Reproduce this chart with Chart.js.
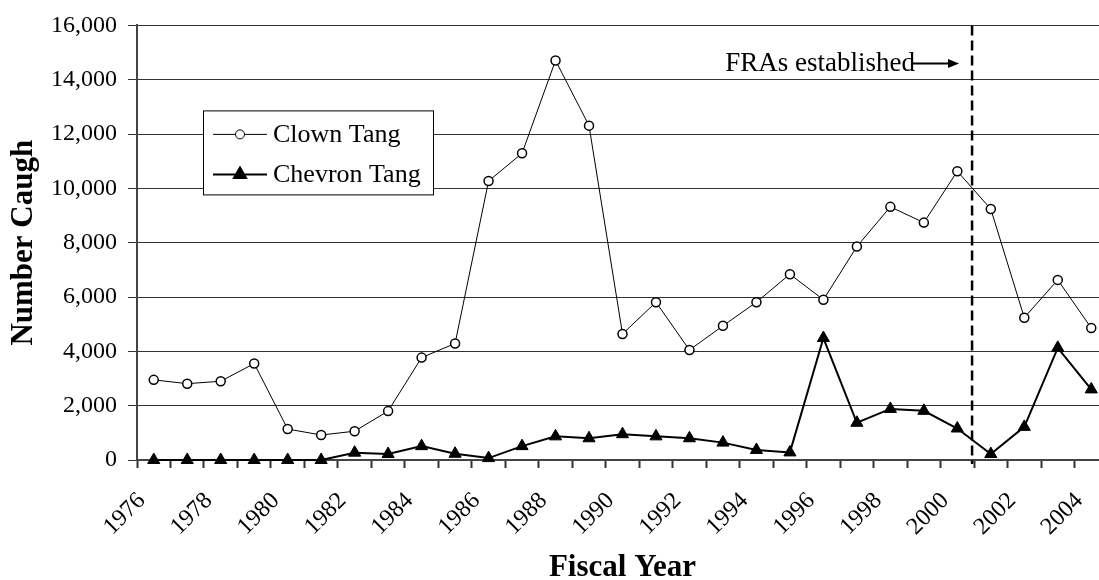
<!DOCTYPE html>
<html>
<head>
<meta charset="utf-8">
<script src="https://cdn.jsdelivr.net/npm/chart.js@4/dist/chart.umd.min.js"></script>
<style>
  html, body { margin: 0; padding: 0; overflow: hidden; background: #fff; }
  canvas { display: block; }
</style>
</head>
<body>
<canvas id="tangChart" width="1116" height="580"></canvas>
<script>
    const years = ['1976', '1977', '1978', '1979', '1980', '1981', '1982', '1983', '1984', '1985',
        '1986', '1987', '1988', '1989', '1990', '1991', '1992', '1993', '1994', '1995',
        '1996', '1997', '1998', '1999', '2000', '2001', '2002', '2003', '2004'];
    const clownTang = [2950, 2810, 2900, 3550, 1140, 920, 1060, 1800, 3770, 4290,
        10270, 11290, 14710, 12310, 4640, 5810, 4050, 4940, 5810, 6840,
        5900, 7860, 9320, 8740, 10630, 9240, 5240, 6630, 4860];
    const chevronTang = [0, 0, 0, 0, 0, 0, 270, 220, 510, 230,
        70, 510, 870, 800, 950, 870, 800, 640, 370, 280,
        4490, 1370, 1880, 1810, 1160, 220, 1220, 4130, 2600];
    const yTicks = [0, 2000, 4000, 6000, 8000, 10000, 12000, 14000, 16000];
    const fraYearIndex = 24; // dashed line drawn after FY2000

    const serif = "'Liberation Serif', 'Times New Roman', serif";

    // dashed FRA line, note with arrow, and the boxed legend
    const extrasPlugin = {
        id: 'extras',
        afterDatasetsDraw(chart) {
            const ctx = chart.ctx;
            const x = chart.scales.x;
            const y = chart.scales.y;
            const area = chart.chartArea;
            const dashX = (x.getPixelForValue(fraYearIndex) + x.getPixelForValue(fraYearIndex + 1)) / 2 - 2;

            ctx.save();
            ctx.strokeStyle = '#000';
            ctx.lineWidth = 2.5;
            ctx.setLineDash([10, 5]);
            ctx.beginPath();
            ctx.moveTo(dashX, area.top);
            ctx.lineTo(dashX, area.bottom + 4);
            ctx.stroke();
            ctx.setLineDash([]);

            const noteY = y.getPixelForValue(14600);
            ctx.font = '27px ' + serif;
            ctx.fillStyle = '#000';
            ctx.textAlign = 'right';
            ctx.textBaseline = 'middle';
            ctx.fillText('FRAs established', dashX - 57, noteY);
            ctx.lineWidth = 2;
            ctx.beginPath();
            ctx.moveTo(dashX - 60, noteY);
            ctx.lineTo(dashX - 22, noteY);
            ctx.stroke();
            ctx.beginPath();
            ctx.moveTo(dashX - 13, noteY);
            ctx.lineTo(dashX - 24, noteY - 4.5);
            ctx.lineTo(dashX - 24, noteY + 4.5);
            ctx.closePath();
            ctx.fill();

            // legend box
            const lx = area.left + 66, ly = area.top + 85, lw = 230, lh = 84;
            ctx.fillStyle = '#fff';
            ctx.fillRect(lx, ly, lw, lh);
            ctx.strokeStyle = '#000';
            ctx.lineWidth = 1;
            ctx.strokeRect(lx + 0.5, ly + 0.5, lw, lh);

            const rows = [
                { ds: chart.data.datasets[0], yy: ly + 24 },
                { ds: chart.data.datasets[1], yy: ly + 64 }
            ];
            rows.forEach(r => {
                ctx.strokeStyle = '#000';
                ctx.lineWidth = r.ds.borderWidth;
                ctx.beginPath();
                ctx.moveTo(lx + 10, r.yy);
                ctx.lineTo(lx + 64, r.yy);
                ctx.stroke();
                ctx.fillStyle = r.ds.pointBackgroundColor;
                ctx.strokeStyle = r.ds.pointBorderColor;
                Chart.helpers.drawPoint(ctx, {
                    pointStyle: r.ds.pointStyle,
                    radius: r.ds.pointRadius,
                    rotation: 0,
                    borderWidth: r.ds.pointBorderWidth
                }, lx + 37, r.yy);
                ctx.fillStyle = '#000';
                ctx.font = '26px ' + serif;
                ctx.textAlign = 'left';
                ctx.textBaseline = 'middle';
                ctx.fillText(r.ds.label, lx + 70, r.yy + 1);
            });
            ctx.restore();
        }
    };

    const ctxTang = document.getElementById('tangChart').getContext('2d');
    const tangChart = new Chart(ctxTang, {
        type: 'line',
        data: {
            labels: years,
            datasets: [{
                label: 'Clown Tang',
                data: clownTang,
                borderColor: '#000',
                borderWidth: 1,
                pointStyle: 'circle',
                pointRadius: 4.5,
                pointBorderWidth: 1.5,
                pointBackgroundColor: '#fff',
                pointBorderColor: '#000',
                fill: false,
                clip: false,
                tension: 0
            }, {
                label: 'Chevron Tang',
                data: chevronTang,
                borderColor: '#000',
                borderWidth: 2,
                pointStyle: 'triangle',
                pointRadius: 7,
                pointBorderWidth: 1,
                pointBackgroundColor: '#000',
                pointBorderColor: '#000',
                fill: false,
                clip: false,
                tension: 0
            }]
        },
        options: {
            responsive: false,
            animation: false,
            layout: { padding: { top: 23, right: 1, bottom: 0, left: 0 } },
            plugins: {
                legend: { display: false },
                tooltip: { enabled: false }
            },
            scales: {
                x: {
                    offset: true,
                    grid: {
                        offset: true,
                        drawOnChartArea: false,
                        drawTicks: true,
                        tickLength: 8,
                        tickColor: '#333',
                        tickWidth: 2
                    },
                    border: { color: '#444', width: 2 },
                    ticks: {
                        autoSkip: false,
                        maxRotation: 45,
                        minRotation: 45,
                        padding: 19,
                        labelOffset: -12,
                        color: '#000',
                        font: { family: serif, size: 24 },
                        callback: function (value, index) {
                            return index % 2 === 0 ? years[index] : '';
                        }
                    },
                    title: {
                        display: true,
                        text: 'Fiscal Year',
                        color: '#000',
                        font: { family: serif, size: 31, weight: 'bold', lineHeight: 1 },
                        padding: { top: 0, bottom: -3 }
                    },
                    afterFit: function (scale) {
                        scale.height = 120;
                        scale.paddingLeft = 0;
                        scale.paddingRight = 0;
                    }
                },
                y: {
                    min: 0,
                    max: 16000,
                    afterBuildTicks: function (scale) {
                        scale.ticks = yTicks.map(v => ({ value: v }));
                    },
                    grid: {
                        color: '#333',
                        lineWidth: 1,
                        drawTicks: true,
                        tickLength: 9,
                        tickColor: '#333'
                    },
                    border: { color: '#444', width: 2 },
                    ticks: {
                        padding: 11,
                        color: '#000',
                        font: { family: serif, size: 24 },
                        callback: function (value) { return value.toLocaleString('en-US'); }
                    },
                    title: {
                        display: true,
                        text: 'Number Caugh',
                        color: '#000',
                        font: { family: serif, size: 31, weight: 'bold', lineHeight: 1 },
                        padding: { top: 8, bottom: 0 }
                    },
                    afterFit: function (scale) { scale.width = 137; }
                }
            }
        },
        plugins: [extrasPlugin]
    });
</script>
</body>
</html>
